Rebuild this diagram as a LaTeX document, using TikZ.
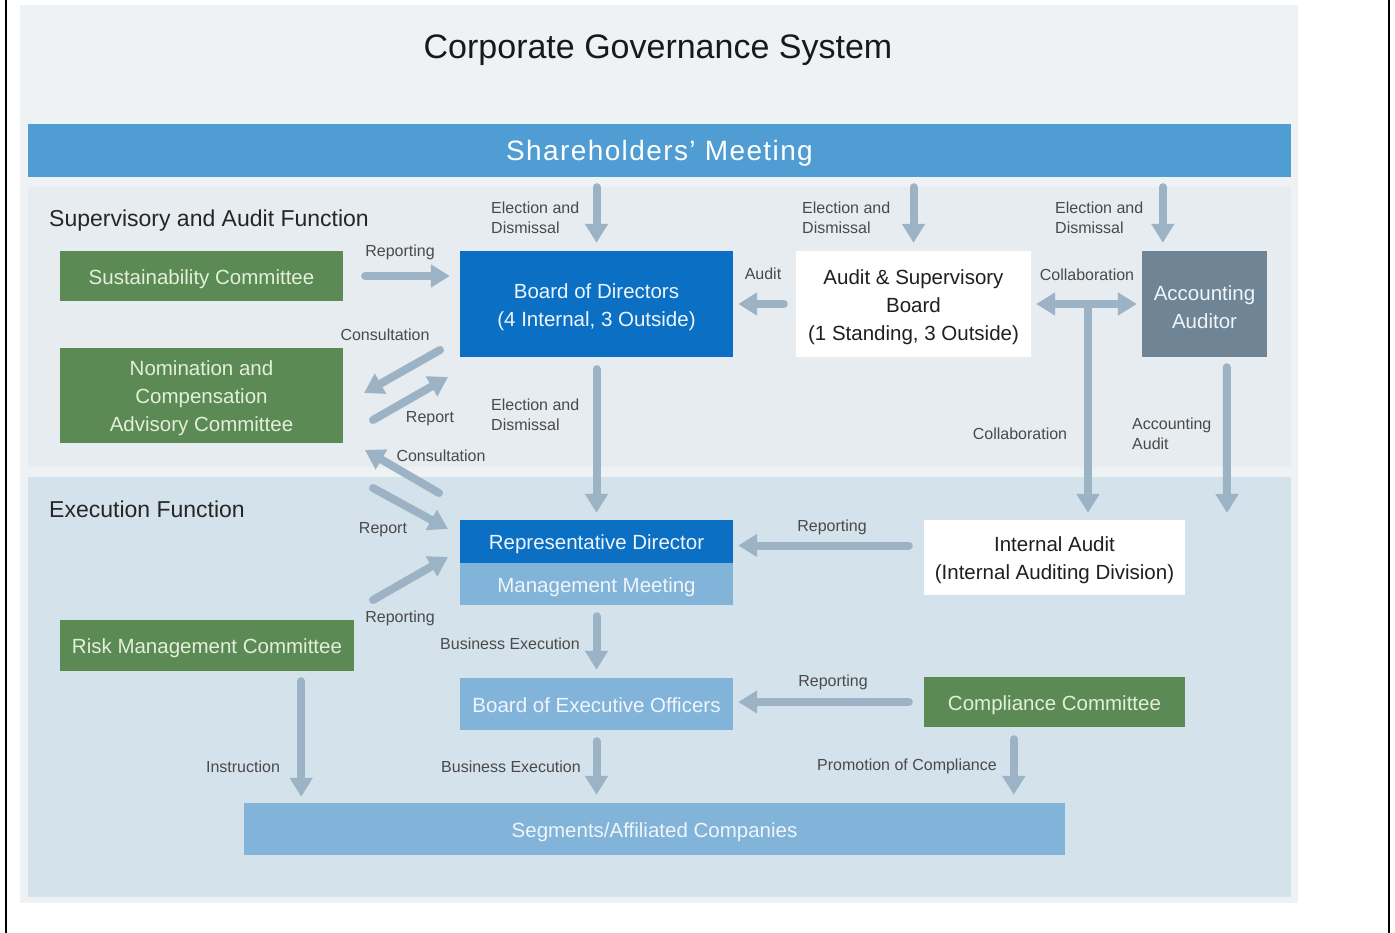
\documentclass[tikz,border=0pt]{standalone}
\usepackage{fontspec}
\setmainfont{Liberation Sans}
\usetikzlibrary{arrows.meta,calc}

\definecolor{outerbg}{HTML}{EEF2F5}
\definecolor{supbg}{HTML}{E6ECF0}
\definecolor{exebg}{HTML}{D4E2EB}
\definecolor{shmblue}{HTML}{4F9DD3}
\definecolor{deepblue}{HTML}{0B6FC3}
\definecolor{paleblue}{HTML}{82B3D9}
\definecolor{leaf}{HTML}{5B8A55}
\definecolor{slate}{HTML}{6F8494}
\definecolor{arrowc}{HTML}{9CB3C5}
\definecolor{labelc}{HTML}{4A4A4A}
\definecolor{leaftext}{HTML}{E3EFDA}
\definecolor{bluetext}{HTML}{EEF5FB}

\tikzset{
  box/.style={rectangle, inner sep=0pt},
  boxtext/.style={align=center, inner sep=0pt, font=\fontsize{20.5}{28}\selectfont, yshift=-3pt},
  greentext/.style={boxtext, text=leaftext},
  bluetext/.style={boxtext, text=bluetext},
  darktext/.style={boxtext, text=black!88},
  lbl/.style={font=\fontsize{16}{20}\selectfont, text=labelc, inner sep=0pt, align=left, yshift=-1.5pt},
  section/.style={font=\fontsize{23}{26}\selectfont, text=black!85, inner sep=0pt, anchor=west},
  arr/.style={draw=arrowc, line width=8pt, line cap=round, -{Triangle[width=22pt,length=19pt]}},
  twoway/.style={draw=arrowc, line width=8pt, {Triangle[width=22pt,length=19pt]}-{Triangle[width=22pt,length=19pt]}}
}

\begin{document}
\begin{tikzpicture}[x=1pt,y=-1pt]
\useasboundingbox (0,0) rectangle (1395,933);

% page frame and panels
\draw[line width=2pt] (6,0) -- (6,933);
\draw[line width=2pt] (1389,0) -- (1389,933);
\fill[outerbg] (20,5) rectangle (1298,903);
\fill[supbg] (28,187) rectangle (1291,467);
\fill[exebg] (28,477) rectangle (1291,897);

% headings
\node[font=\fontsize{34}{38}\selectfont, text=black!90, inner sep=0pt] (title) at (658,50) {Corporate Governance System};
\node[section] (supsec) at (49,221) {Supervisory and Audit Function};
\node[section] (exesec) at (49,509) {Execution Function};

% bodies
\node[box, fill=shmblue, minimum width=1263pt, minimum height=53pt,
      label={[boxtext, text=white, font=\fontsize{28}{32}\selectfont\addfontfeature{LetterSpace=5}]center:{Shareholders’ Meeting}}] (shm) at (659.5,150.5) {};
\node[box, fill=leaf, minimum width=283pt, minimum height=50pt,
      label={[greentext]center:{Sustainability Committee}}] (sus) at (201.5,276) {};
\node[box, fill=leaf, minimum width=283pt, minimum height=95pt,
      label={[greentext]center:{Nomination and\\Compensation\\Advisory Committee}}] (nom) at (201.5,395.5) {};
\node[box, fill=deepblue, minimum width=273pt, minimum height=106pt,
      label={[bluetext]center:{Board of Directors\\(4 Internal, 3 Outside)}}] (bod) at (596.5,304) {};
\node[box, fill=white, minimum width=235pt, minimum height=106pt,
      label={[darktext]center:{Audit \& Supervisory\\Board\\(1 Standing, 3 Outside)}}] (asb) at (913.5,304) {};
\node[box, fill=slate, minimum width=125pt, minimum height=106pt,
      label={[bluetext]center:{Accounting\\Auditor}}] (aa) at (1204.5,304) {};
\node[box, fill=deepblue, minimum width=273pt, minimum height=43pt,
      label={[bluetext]center:{Representative Director}}] (rep) at (596.5,541.5) {};
\node[box, fill=paleblue, minimum width=273pt, minimum height=42pt,
      label={[bluetext]center:{Management Meeting}}] (mm) at (596.5,584) {};
\node[box, fill=white, minimum width=261pt, minimum height=75pt,
      label={[darktext]center:{Internal Audit\\(Internal Auditing Division)}}] (ia) at (1054.5,557.5) {};
\node[box, fill=leaf, minimum width=294pt, minimum height=51pt,
      label={[greentext]center:{Risk Management Committee}}] (risk) at (207,645.5) {};
\node[box, fill=paleblue, minimum width=273pt, minimum height=52pt,
      label={[bluetext, yshift=2pt]center:{Board of Executive Officers}}] (beo) at (596.5,704) {};
\node[box, fill=leaf, minimum width=261pt, minimum height=50pt,
      label={[greentext]center:{Compliance Committee}}] (comp) at (1054.5,702) {};
\node[box, fill=paleblue, minimum width=821pt, minimum height=52pt,
      label={[bluetext]center:{Segments/Affiliated Companies}}] (seg) at (654.5,829) {};

% helper points
\coordinate (aatop) at ($(aa.north west)+(21,0)$);
\coordinate (aabot) at ($(aa.south west)+(85,0)$);
\coordinate (aaend) at (1227,513);
\coordinate (colx) at (1088,304);
\coordinate (risktap) at ($(risk.south east)+(-53,0)$);
\coordinate (comptap) at ($(comp.south west)+(90,0)$);
\coordinate (iaout) at ($(ia.west)+(0,-12)$);
\coordinate (c1a) at (440,350);
\coordinate (c1b) at (364,393);
\coordinate (r1a) at (373,420);
\coordinate (r1b) at (448,377);
\coordinate (c2a) at (439,493);
\coordinate (c2b) at (365,450);
\coordinate (r2a) at (373,488);
\coordinate (r2b) at (448,529);
\coordinate (r3a) at (373,600);
\coordinate (r3b) at (448,557);

% election and dismissal from the shareholders
\draw[arr, shorten <=10pt, shorten >=8pt] (shm.south -| bod.north) -- (bod.north);
\draw[arr, shorten <=10pt, shorten >=8pt] (shm.south -| asb.north) -- (asb.north);
\draw[arr, shorten <=10pt, shorten >=8pt] (shm.south -| aatop) -- (aatop);

% supervisory links
\draw[arr, shorten <=22pt, shorten >=10pt] (sus.east) -- (sus.east -| bod.west);
\draw[arr, shorten <=12pt, shorten >=5pt] (asb.west) -- (bod.east);
\draw[twoway, shorten <=5pt, shorten >=5pt] (asb.east |- colx) -- (aa.west |- colx);
\draw[arr, shorten >=7pt] (colx) -- (colx |- ia.north);
\draw[arr, shorten <=10pt] (aabot) -- (aaend);
\draw[arr, shorten <=12pt, shorten >=7pt] (bod.south) -- (rep.north);

% advisory committee links
\draw[arr] (c1a) -- (c1b);
\draw[arr] (r1a) -- (r1b);
\draw[arr] (c2a) -- (c2b);
\draw[arr] (r2a) -- (r2b);
\draw[arr] (r3a) -- (r3b);

% execution links
\draw[arr, shorten <=15pt, shorten >=5pt] (iaout) -- (iaout -| rep.east);
\draw[arr, shorten <=15pt, shorten >=5pt] (comp.west) -- (comp.west -| beo.east);
\draw[arr, shorten <=11pt, shorten >=8pt] (mm.south) -- (beo.north);
\draw[arr, shorten <=11pt, shorten >=8pt] (beo.south) -- (beo.south |- seg.north);
\draw[arr, shorten <=10pt, shorten >=6pt] (risktap) -- (risktap |- seg.north);
\draw[arr, shorten <=12pt, shorten >=8pt] (comptap) -- (comptap |- seg.north);

% connector labels
\node[lbl, anchor=west] (l1) at (491,216) {Election and\\Dismissal};
\node[lbl, anchor=west] (l2) at (802,216) {Election and\\Dismissal};
\node[lbl, anchor=west] (l3) at (1055,216) {Election and\\Dismissal};
\node[lbl] (l4) at (400,251) {Reporting};
\node[lbl] (l5) at (763,272) {Audit};
\node[lbl] (l6) at (1087,273) {Collaboration};
\node[lbl] (l7) at (385,333) {Consultation};
\node[lbl] (l8) at (430,417) {Report};
\node[lbl, anchor=west] (l9) at (491,413) {Election and\\Dismissal};
\node[lbl] (l10) at (1020,432) {Collaboration};
\node[lbl, anchor=west] (l11) at (1132,432) {Accounting\\Audit};
\node[lbl] (l12) at (441,454) {Consultation};
\node[lbl] (l13) at (383,528) {Report};
\node[lbl] (l14) at (832,526) {Reporting};
\node[lbl] (l15) at (400,617) {Reporting};
\node[lbl] (l16) at (510,642) {Business Execution};
\node[lbl] (l17) at (833,681) {Reporting};
\node[lbl] (l18) at (243,765) {Instruction};
\node[lbl] (l19) at (511,765) {Business Execution};
\node[lbl] (l20) at (907,765) {Promotion of Compliance};
\end{tikzpicture}
\end{document}
